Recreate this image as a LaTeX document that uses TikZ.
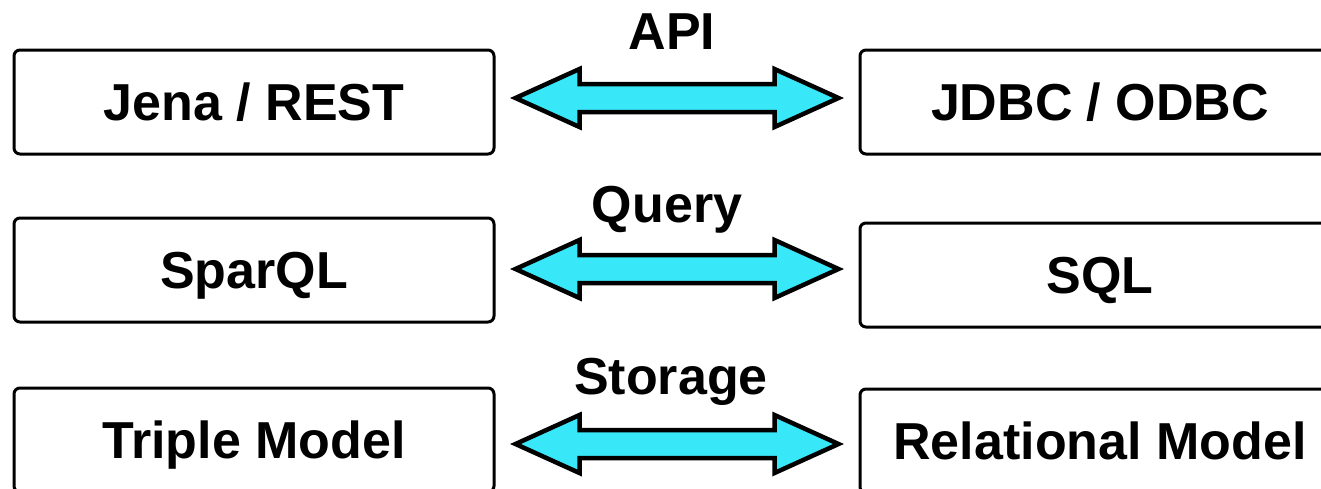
\documentclass[tikz,border=0pt]{standalone}
\usepackage{fontspec}
\setmainfont{Liberation Sans}
\usetikzlibrary{calc}
\definecolor{flow}{RGB}{56,232,248}
% double-headed block arrow between two points on one row
\newcommand\twoway[2]{%
  \draw[flowarrow] let \p1=(#1), \p2=(#2) in
    (\x1,\y1) -- (\x1+64pt,\y1+29pt) -- (\x1+64pt,\y1+14pt)
    -- (\x2-64pt,\y1+14pt) -- (\x2-64pt,\y1+29pt) -- (\x2,\y1)
    -- (\x2-64pt,\y1-29pt) -- (\x2-64pt,\y1-14pt)
    -- (\x1+64pt,\y1-14pt) -- (\x1+64pt,\y1-29pt) -- cycle;}
\begin{document}
\begin{tikzpicture}[x=1pt,y=-1pt,
  box/.style={draw, line width=3pt, rounded corners=6pt,
    minimum width=480pt, minimum height=104pt, inner sep=0pt,
    text height=37pt, text depth=0pt,
    font=\fontsize{52}{60}\selectfont\bfseries},
  lbl/.style={anchor=base, inner sep=0pt,
    font=\fontsize{52}{60}\selectfont\bfseries},
  flowarrow/.style={draw, line width=4.5pt, fill=flow, line join=miter}]
\useasboundingbox (0,0) rectangle (1321,488);
\clip (0,0) rectangle (1321,488);

% left column: RDF side
\node[box] (jena)   at (254,102) {Jena / REST};
\node[box] (sparql) at (254,270) {SparQL};
\node[box] (triple) at (254,440) {Triple Model};

% right column: relational side
\node[box] (jdbc) at (1100,102) {JDBC / ODBC};
\node[box] (sql)  at (1100,275) {SQL};
\node[box] (rel)  at (1100,441) {Relational Model};

% layer labels
\node[lbl] (api)     at (672,49)  {API};
\node[lbl] (query)   at (667,222) {Query};
\node[lbl] (storage) at (671,394) {Storage};

% arrow tips, just off the facing box edges
\coordinate (a1l) at ($(jena.east)+(20,-4)$);
\coordinate (a1r) at ($(jdbc.west)+(-20,-4)$);
\coordinate (a2l) at ($(sparql.east)+(20,-1)$);
\coordinate (a2r) at ($(sql.west)+(-20,-6)$);
\coordinate (a3l) at ($(triple.east)+(20,4)$);
\coordinate (a3r) at ($(rel.west)+(-20,3)$);

\twoway{a1l}{a1r}
\twoway{a2l}{a2r}
\twoway{a3l}{a3r}
\end{tikzpicture}
\end{document}
